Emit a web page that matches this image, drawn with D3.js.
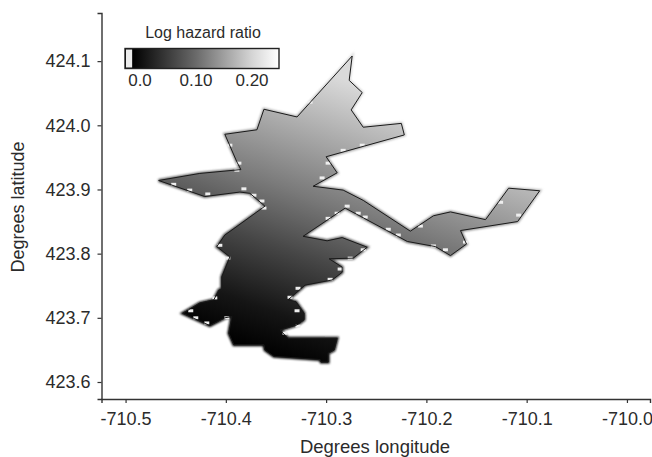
<!DOCTYPE html>
<html>
<head>
<meta charset="utf-8">
<script src="https://cdn.jsdelivr.net/npm/d3@7"></script>
<style>
  body { margin: 0; background: #fff; }
  svg { display: block; }
  text { font-family: "Liberation Sans", sans-serif; fill: #2b2b2b; }
</style>
</head>
<body>
<div id="chart"></div>
<script>
const FRAME_WIDTH = 652;
const FRAME_HEIGHT = 457;

// axis ticks
const LON_TICKS = [-710.5, -710.4, -710.3, -710.2, -710.1, -710.0];
const LAT_TICKS = [423.6, 423.7, 423.8, 423.9, 424.0, 424.1];
const LEGEND_TICKS = [0.0, 0.1, 0.2];
const LEGEND_LABELS = ["0.0", "0.10", "0.20"];

// boundary of the region
const BOUNDARY_LON = [
  -710.274, -710.277, -710.264, -710.275, -710.263, -710.225, -710.222, -710.300,
  -710.289, -710.313, -710.283, -710.263, -710.216, -710.193, -710.176, -710.141,
  -710.118, -710.087, -710.109, -710.166, -710.160, -710.176, -710.191, -710.219,
  -710.281, -710.323, -710.299, -710.284, -710.259, -710.273, -710.297, -710.284,
  -710.284, -710.294, -710.321, -710.338, -710.330, -710.322, -710.322, -710.329,
  -710.346, -710.338, -710.289, -710.292, -710.298, -710.298, -710.305, -710.306,
  -710.352, -710.361, -710.362, -710.392, -710.397, -710.394, -710.401, -710.416,
  -710.443, -710.426, -710.412, -710.407, -710.404, -710.404, -710.396, -710.409,
  -710.401, -710.392, -710.361, -710.376, -710.386, -710.421, -710.467, -710.426,
  -710.385, -710.389, -710.401, -710.369, -710.362, -710.329
];
const BOUNDARY_LAT = [
  424.108, 424.070, 424.051, 424.024, 423.997, 424.003, 423.985, 423.951,
  423.926, 423.905, 423.899, 423.883, 423.835, 423.859, 423.865, 423.853,
  423.902, 423.898, 423.850, 423.836, 423.815, 423.797, 423.811, 423.819,
  423.871, 423.827, 423.820, 423.825, 423.810, 423.793, 423.792, 423.779,
  423.771, 423.759, 423.751, 423.728, 423.725, 423.707, 423.697, 423.689,
  423.681, 423.668, 423.668, 423.650, 423.645, 423.631, 423.631, 423.635,
  423.640, 423.650, 423.658, 423.658, 423.676, 423.702, 423.700, 423.688,
  423.707, 423.723, 423.728, 423.743, 423.745, 423.764, 423.795, 423.811,
  423.829, 423.839, 423.874, 423.894, 423.896, 423.889, 423.914, 423.925,
  423.931, 423.943, 423.986, 423.993, 424.025, 424.013
];

// empty raster cells just inside the boundary
const GAP_LON = [
  -710.452, -710.436, -710.418, -710.382, -710.372, -710.364, -710.362, -710.396,
  -710.387, -710.389, -710.406, -710.398, -710.263, -710.276, -710.286, -710.296,
  -710.328, -710.336, -710.329, -710.328, -710.341, -710.435, -710.430, -710.419,
  -710.399, -710.411, -710.316, -710.298, -710.304, -710.279, -710.268, -710.261,
  -710.238, -710.228, -710.193, -710.181, -710.161, -710.206, -710.289, -710.298,
  -710.264, -710.283, -710.108, -710.126
];
const GAP_LAT = [
  423.908, 423.899, 423.893, 423.901, 423.891, 423.882, 423.871, 423.969,
  423.941, 423.930, 423.813, 423.793, 423.806, 423.793, 423.776, 423.760,
  423.746, 423.732, 423.711, 423.687, 423.676, 423.711, 423.700, 423.692,
  423.700, 423.731, 424.036, 423.941, 423.918, 423.874, 423.863, 423.857,
  423.838, 423.829, 423.812, 423.806, 423.818, 423.843, 423.863, 423.855,
  423.969, 423.961, 423.860, 423.880
];

// log hazard ratio along latitude, taken on the main body at SURFACE_LON
const SURFACE_LON = -710.335;
const SURFACE_LAT = [423.60, 423.63, 423.70, 423.80, 423.90, 424.00, 424.10];
const SURFACE_HAZARD = [0.0, 0.0, 0.02, 0.065, 0.115, 0.16, 0.205];
// the surface also rises eastward: direction of steepest rise on the page
const TILT_X = 0.33;
const TILT_Y = -0.944;

const X_SCALE = d3.scaleLinear().domain([-710.524, -709.977]).range([101.5, 650]);
const Y_SCALE = d3.scaleLinear().domain([423.5735, 424.175]).range([399, 13]);
const LEGEND_SCALE = d3.scaleLinear().domain([0, 0.2]).range([140, 252]);
const GREY_SCALE = d3.scaleLinear().domain([0, 0.24]).range(["#000000", "#ffffff"]);

const FRAME = d3.select("#chart")
  .append("svg")
    .attr("width", FRAME_WIDTH)
    .attr("height", FRAME_HEIGHT);

const DEFS = FRAME.append("defs");

// map fill, tilted so that latitude still reads true at SURFACE_LON
const START_X = X_SCALE(SURFACE_LON);
const START_Y = Y_SCALE(SURFACE_LAT[0]);
const END_Y = Y_SCALE(SURFACE_LAT[SURFACE_LAT.length - 1]);
const GRAD_LENGTH = (END_Y - START_Y) * TILT_Y;
const LAT_RANGE = SURFACE_LAT[SURFACE_LAT.length - 1] - SURFACE_LAT[0];

const MAP_GRAD = DEFS.append("linearGradient")
  .attr("id", "surface")
  .attr("gradientUnits", "userSpaceOnUse")
  .attr("x1", START_X).attr("y1", START_Y)
  .attr("x2", START_X + GRAD_LENGTH * TILT_X)
  .attr("y2", START_Y + GRAD_LENGTH * TILT_Y);
MAP_GRAD.selectAll("stop")
  .data(SURFACE_LAT)
  .enter()
  .append("stop")
    .attr("offset", (d) => { return (d - SURFACE_LAT[0]) / LAT_RANGE; })
    .attr("stop-color", (d, i) => { return GREY_SCALE(SURFACE_HAZARD[i]); });

DEFS.append("filter")
  .attr("id", "soft")
  .append("feGaussianBlur")
    .attr("stdDeviation", 1.1);

DEFS.append("filter")
  .attr("id", "soft-gap")
  .append("feGaussianBlur")
    .attr("stdDeviation", 0.6);

const POINTS = BOUNDARY_LON.map((d, i) => { return [X_SCALE(d), Y_SCALE(BOUNDARY_LAT[i])]; });
const LINE = d3.line().curve(d3.curveLinearClosed);

// soft edge of the raster behind the outline
FRAME.append("path")
  .attr("d", LINE(POINTS))
  .attr("fill", "url(#surface)")
  .attr("stroke", "url(#surface)")
  .attr("stroke-width", 3)
  .attr("filter", "url(#soft)");

FRAME.append("path")
  .attr("d", LINE(POINTS))
  .attr("fill", "url(#surface)");

FRAME.selectAll(".gap")
  .data(GAP_LON)
  .enter()
  .append("rect")
    .attr("class", "gap")
    .attr("x", (d) => { return X_SCALE(d) - 2.5; })
    .attr("y", (d, i) => { return Y_SCALE(GAP_LAT[i]) - 1.5; })
    .attr("width", 5)
    .attr("height", 3)
    .attr("fill", "#eeeeee")
    .attr("filter", "url(#soft-gap)");

FRAME.append("path")
  .attr("d", LINE(POINTS))
  .attr("fill", "none")
  .attr("stroke", "#1a1a1a")
  .attr("stroke-width", 1);

// X axis
const X_AXIS = FRAME.append("g")
  .attr("transform", "translate(0,399)")
  .call(d3.axisBottom(X_SCALE)
    .tickValues(LON_TICKS)
    .tickSizeOuter(0)
    .tickSize(4)
    .tickPadding(9)
    .tickFormat((d) => { return d.toFixed(1); }));

// Y axis
const Y_AXIS = FRAME.append("g")
  .attr("transform", "translate(101.5,0)")
  .call(d3.axisLeft(Y_SCALE)
    .tickValues(LAT_TICKS)
    .tickSizeOuter(0)
    .tickSize(4)
    .tickPadding(7)
    .tickFormat((d) => { return d.toFixed(1); }));

[X_AXIS, Y_AXIS].forEach((axis) => {
  axis.attr("font-family", null).attr("font-size", null);
  axis.selectAll("text").style("font-size", "18px");
  axis.selectAll("line").attr("stroke", "#333").attr("stroke-width", 1.2);
  axis.select(".domain").attr("stroke", "#333").attr("stroke-width", 1.4);
});

FRAME.append("text")
  .attr("x", 375).attr("y", 453)
  .attr("text-anchor", "middle")
  .style("font-size", "18.5px")
  .text("Degrees longitude");

FRAME.append("text")
  .attr("transform", "translate(24,207) rotate(-90)")
  .attr("text-anchor", "middle")
  .style("font-size", "18px")
  .text("Degrees latitude");

// legend
const LEGEND_MIN = LEGEND_SCALE.invert(125);
const LEGEND_MAX = LEGEND_SCALE.invert(279);
const LEGEND_GRAD = DEFS.append("linearGradient")
  .attr("id", "legend-ramp");
const LEGEND_STOPS = [-0.014, 0.1, 0.2, LEGEND_MAX];
LEGEND_GRAD.selectAll("stop")
  .data(LEGEND_STOPS)
  .enter()
  .append("stop")
    .attr("offset", (d) => { return (d - LEGEND_MIN) / (LEGEND_MAX - LEGEND_MIN); })
    .attr("stop-color", (d) => { return GREY_SCALE(d); });

FRAME.append("rect")
  .attr("x", LEGEND_SCALE(LEGEND_MIN)).attr("y", 48.5)
  .attr("width", LEGEND_SCALE(LEGEND_MAX) - LEGEND_SCALE(LEGEND_MIN))
  .attr("height", 20)
  .attr("fill", "url(#legend-ramp)")
  .attr("stroke", "#222")
  .attr("stroke-width", 1.4);

// pale sliver below zero
FRAME.append("rect")
  .attr("x", LEGEND_SCALE(LEGEND_MIN) + 1).attr("y", 49.5)
  .attr("width", LEGEND_SCALE(-0.014) - LEGEND_SCALE(LEGEND_MIN) - 1)
  .attr("height", 18)
  .attr("fill", "#ececec");

FRAME.selectAll(".legend-label")
  .data(LEGEND_TICKS)
  .enter()
  .append("text")
    .attr("class", "legend-label")
    .attr("x", (d) => { return LEGEND_SCALE(d); })
    .attr("y", 86)
    .attr("text-anchor", "middle")
    .style("font-size", "17px")
    .text((d, i) => { return LEGEND_LABELS[i]; });

FRAME.append("text")
  .attr("x", 203).attr("y", 38)
  .attr("text-anchor", "middle")
  .style("font-size", "16px")
  .text("Log hazard ratio");
</script>
</body>
</html>
